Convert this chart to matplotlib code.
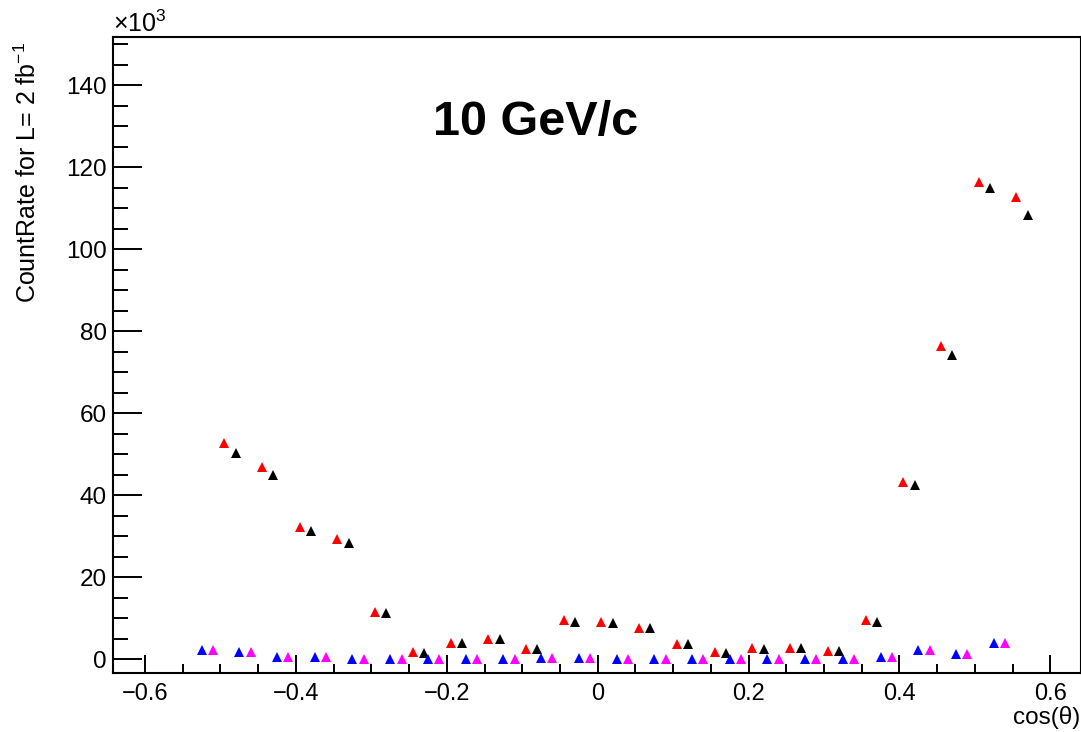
import matplotlib
matplotlib.use("Agg")
import matplotlib.pyplot as plt
from matplotlib.ticker import MultipleLocator, FuncFormatter

plt.rcParams["font.family"] = ["Liberation Sans", "DejaVu Sans"]
plt.rcParams["mathtext.fontset"] = "custom"
plt.rcParams["mathtext.rm"] = "Liberation Sans"
plt.rcParams["mathtext.default"] = "regular"

# data (count rate in units of 10^3)
x_red = [-0.495, -0.445, -0.395, -0.345, -0.295, -0.245, -0.195, -0.145, -0.095, -0.045, 0.005,
         0.055, 0.105, 0.155, 0.205, 0.255, 0.305, 0.355, 0.405, 0.455, 0.505, 0.555]
y_red = [52.8, 47.0, 32.2, 29.3, 11.5, 1.8, 3.9, 5.0, 2.6, 9.6, 9.2,
         7.6, 3.65, 1.8, 2.75, 2.75, 2.1, 9.6, 43.3, 76.5, 116.4, 112.8]

x_black = [-0.48, -0.43, -0.38, -0.33, -0.28, -0.23, -0.18, -0.13, -0.08, -0.03, 0.02,
           0.07, 0.12, 0.17, 0.22, 0.27, 0.32, 0.37, 0.42, 0.47, 0.52, 0.57]
y_black = [50.4, 44.9, 31.3, 28.4, 11.4, 1.6, 3.9, 4.9, 2.4, 9.2, 8.8,
           7.6, 3.65, 1.6, 2.4, 2.7, 1.95, 9.2, 42.4, 74.2, 114.8, 108.4]

x_blue = [-0.525, -0.475, -0.425, -0.375, -0.325, -0.275, -0.225, -0.175, -0.125, -0.075, -0.025,
          0.025, 0.075, 0.125, 0.175, 0.225, 0.275, 0.325, 0.375, 0.425, 0.475, 0.525]
y_blue = [2.27, 1.85, 0.64, 0.56, 0.0, 0.0, 0.0, 0.0, 0.0, 0.3, 0.25,
          0.0, 0.0, 0.0, 0.0, 0.0, 0.0, 0.0, 0.64, 2.2, 1.35, 4.05]

x_magenta = [-0.51, -0.46, -0.41, -0.36, -0.31, -0.26, -0.21, -0.16, -0.11, -0.06, -0.01,
             0.04, 0.09, 0.14, 0.19, 0.24, 0.29, 0.34, 0.39, 0.44, 0.49, 0.54]
y_magenta = [2.27, 1.85, 0.64, 0.5, 0.0, 0.0, 0.0, 0.0, 0.0, 0.3, 0.25,
             0.0, 0.0, 0.0, 0.0, 0.1, 0.0, 0.0, 0.64, 2.2, 1.35, 4.05]

fig = plt.figure(figsize=(10.81, 7.32), dpi=100)
ax = fig.add_axes([0.1041, 0.0802, 0.8955, 0.8686])

ms = 7.3
ax.plot(x_red, y_red, "^", color="#ff0000", ms=ms, mew=0)
ax.plot(x_black, y_black, "^", color="black", ms=ms, mew=0)
ax.plot(x_blue, y_blue, "^", color="#0000ff", ms=ms, mew=0)
ax.plot(x_magenta, y_magenta, "^", color="#ff00ff", ms=ms, mew=0)

ax.set_xlim(-0.643, 0.640)
ax.set_ylim(-3.41, 151.6)

# ROOT style axes
for s in ax.spines.values():
    s.set_linewidth(1.5)
ax.xaxis.set_major_locator(MultipleLocator(0.2))
ax.xaxis.set_minor_locator(MultipleLocator(0.05))
ax.yaxis.set_major_locator(MultipleLocator(20))
ax.yaxis.set_minor_locator(MultipleLocator(5))
ax.xaxis.set_major_formatter(FuncFormatter(lambda v, p: f"{v:.1f}".replace("-", "\u2212") if abs(v) > 1e-9 else "0"))
ax.yaxis.set_major_formatter(FuncFormatter(lambda v, p: f"{v:.0f}"))
ax.tick_params(axis="both", which="both", direction="in", top=False, right=False,
               width=1.4, color="black")
ax.tick_params(axis="y", which="major", length=21, pad=4, labelsize=17.5)
ax.tick_params(axis="y", which="minor", length=11)
ax.tick_params(axis="x", which="major", length=13, pad=7, labelsize=17)
ax.tick_params(axis="x", which="minor", length=6.5)

ax.text(0.0, 1.0, r"$\times10^{3}$", transform=ax.transAxes, fontsize=18,
        ha="left", va="bottom")

fig.text(0.026, 1 - 42 / 732, r"CountRate for L= 2 fb$^{-1}$", rotation=90,
         fontsize=18, ha="center", va="top")
fig.text(1080 / 1081, 1 - 724 / 732, "cos(\u03b8)", fontsize=17.5, ha="right", va="baseline")

fig.text(536 / 1081, 1 - 135 / 732, "10 GeV/c", fontsize=35, fontweight="bold",
         ha="center", va="baseline")

fig.savefig("out.png", dpi=100)
